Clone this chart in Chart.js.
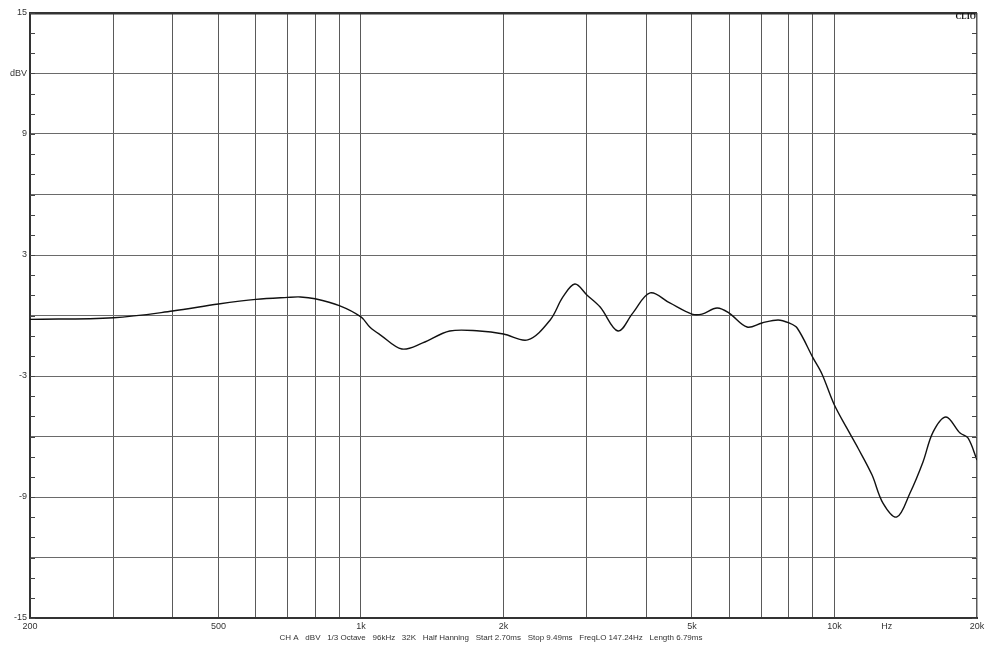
<!DOCTYPE html>
<html>
<head>
<meta charset="utf-8">
<script src="https://cdn.jsdelivr.net/npm/chart.js@4.4.1/dist/chart.umd.min.js"></script>
<style>
  html, body { margin: 0; padding: 0; background: #fff; }
  #wrap { width: 992px; height: 648px; }
</style>
</head>
<body>
<div id="wrap"><canvas id="freqChart"></canvas></div>
<script>
// response curve (Hz / dBV)
const freqs = [200, 300, 400, 500, 600, 700, 745, 800, 900, 1000, 1045, 1100, 1220, 1350, 1540, 1780,
  2000, 2250, 2510, 2670, 2830, 3000, 3200, 3490, 3750, 4080, 4490, 5000, 5250, 5650, 5990, 6540,
  7030, 7600, 8020, 8340, 9010, 9410, 9980, 10630, 11210, 12000, 12660, 13550, 14440, 15380, 16150,
  17200, 18420, 19140, 20000];
const dbv = [-0.19, -0.11, 0.22, 0.57, 0.8, 0.9, 0.92, 0.83, 0.49, -0.07, -0.58, -0.97, -1.66, -1.36, -0.77, -0.77,
  -0.92, -1.21, -0.22, 0.92, 1.56, 1.02, 0.42, -0.77, 0.12, 1.12, 0.62, 0.07, 0.07, 0.37, 0.12, -0.57,
  -0.37, -0.22, -0.37, -0.62, -2.1, -2.9, -4.4, -5.6, -6.57, -7.9, -9.3, -9.99, -8.8, -7.26, -5.78,
  -5.03, -5.83, -6.07, -7.16];

// axis ticks
const xTicks = [200, 300, 400, 500, 600, 700, 800, 900, 1000, 2000, 3000, 4000, 5000, 6000, 7000, 8000, 9000, 10000, 12900, 20000];
const xLabels = {200: '200', 500: '500', 1000: '1k', 2000: '2k', 5000: '5k', 10000: '10k', 12900: 'Hz', 20000: '20k'};
const yLabels = {15: '15', 12: 'dBV', 9: '9', 3: '3', '-3': '-3', '-9': '-9', '-15': '-15'};
const footer = 'CH A   dBV   1/3 Octave   96kHz   32K   Half Hanning   Start 2.70ms   Stop 9.49ms   FreqLO 147.24Hz   Length 6.79ms';

const points = freqs.map((f, i) => ({ x: f, y: dbv[i] }));

// little inward ticks on both sides, footer line and the CLIO mark
const extras = {
  id: 'extras',
  afterDraw(chart) {
    const ctx = chart.ctx;
    const a = chart.chartArea;
    const y = chart.scales.y;
    ctx.save();
    ctx.strokeStyle = '#444';
    ctx.lineWidth = 1;
    for (let v = -15; v <= 15; v++) {
      const py = Math.round(y.getPixelForValue(v)) + 0.5;
      ctx.beginPath();
      ctx.moveTo(a.left, py); ctx.lineTo(a.left + 5, py);
      ctx.moveTo(a.right - 5, py); ctx.lineTo(a.right, py);
      ctx.stroke();
    }
    ctx.fillStyle = '#333';
    ctx.font = "8px 'Liberation Sans', Arial, sans-serif";
    ctx.textAlign = 'center';
    ctx.textBaseline = 'middle';
    ctx.fillText(footer, 491, 638);
    ctx.font = "bold 8px 'Liberation Serif', serif";
    ctx.textAlign = 'right';
    ctx.fillStyle = '#111';
    ctx.fillText('CLIO', a.right - 1, a.top + 4);
    ctx.restore();
  }
};

const ctx = document.getElementById('freqChart').getContext('2d');
const freqChart = new Chart(ctx, {
  type: 'line',
  data: {
    datasets: [{
      data: points,
      borderColor: '#111',
      borderWidth: 1.4,
      pointRadius: 0,
      fill: false,
      tension: 0.35
    }]
  },
  options: {
    responsive: true,
    maintainAspectRatio: false,
    animation: false,
    layout: { padding: { left: 0, right: 15, top: 13, bottom: 0 } },
    plugins: { legend: { display: false }, tooltip: { enabled: false } },
    scales: {
      x: {
        type: 'logarithmic',
        min: 200,
        max: 20000,
        afterBuildTicks: s => { s.ticks = xTicks.map(v => ({ value: v })); },
        afterFit: s => { s.height = 30; },
        ticks: {
          autoSkip: false,
          maxRotation: 0,
          padding: 3,
          color: '#333',
          font: { size: 9, family: "'Liberation Sans', Arial, sans-serif" },
          callback: v => xLabels[v] || ''
        },
        grid: {
          drawTicks: false,
          color: c => (c.tick && c.tick.value === 12900) ? 'rgba(0,0,0,0)' : '#5a5a5a',
          lineWidth: c => (c.tick && c.tick.value === 20000) ? 1.5 : 1
        },
        border: { display: true, color: '#333', width: 2 }
      },
      y: {
        min: -15,
        max: 15,
        afterFit: s => { s.width = 30; },
        ticks: {
          stepSize: 1,
          autoSkip: false,
          padding: 3,
          color: '#333',
          font: { size: 9, family: "'Liberation Sans', Arial, sans-serif" },
          callback: v => yLabels[v] || ''
        },
        grid: {
          drawTicks: false,
          color: c => {
            if (!c.tick) return 'rgba(0,0,0,0)';
            if (c.tick.value === 15) return '#333';
            return c.tick.value % 3 === 0 ? '#6a6a6a' : 'rgba(0,0,0,0)';
          },
          lineWidth: c => (c.tick && c.tick.value === 15) ? 2.5 : 1
        },
        border: { display: true, color: '#333', width: 2 }
      }
    }
  },
  plugins: [extras]
});
</script>
</body>
</html>
